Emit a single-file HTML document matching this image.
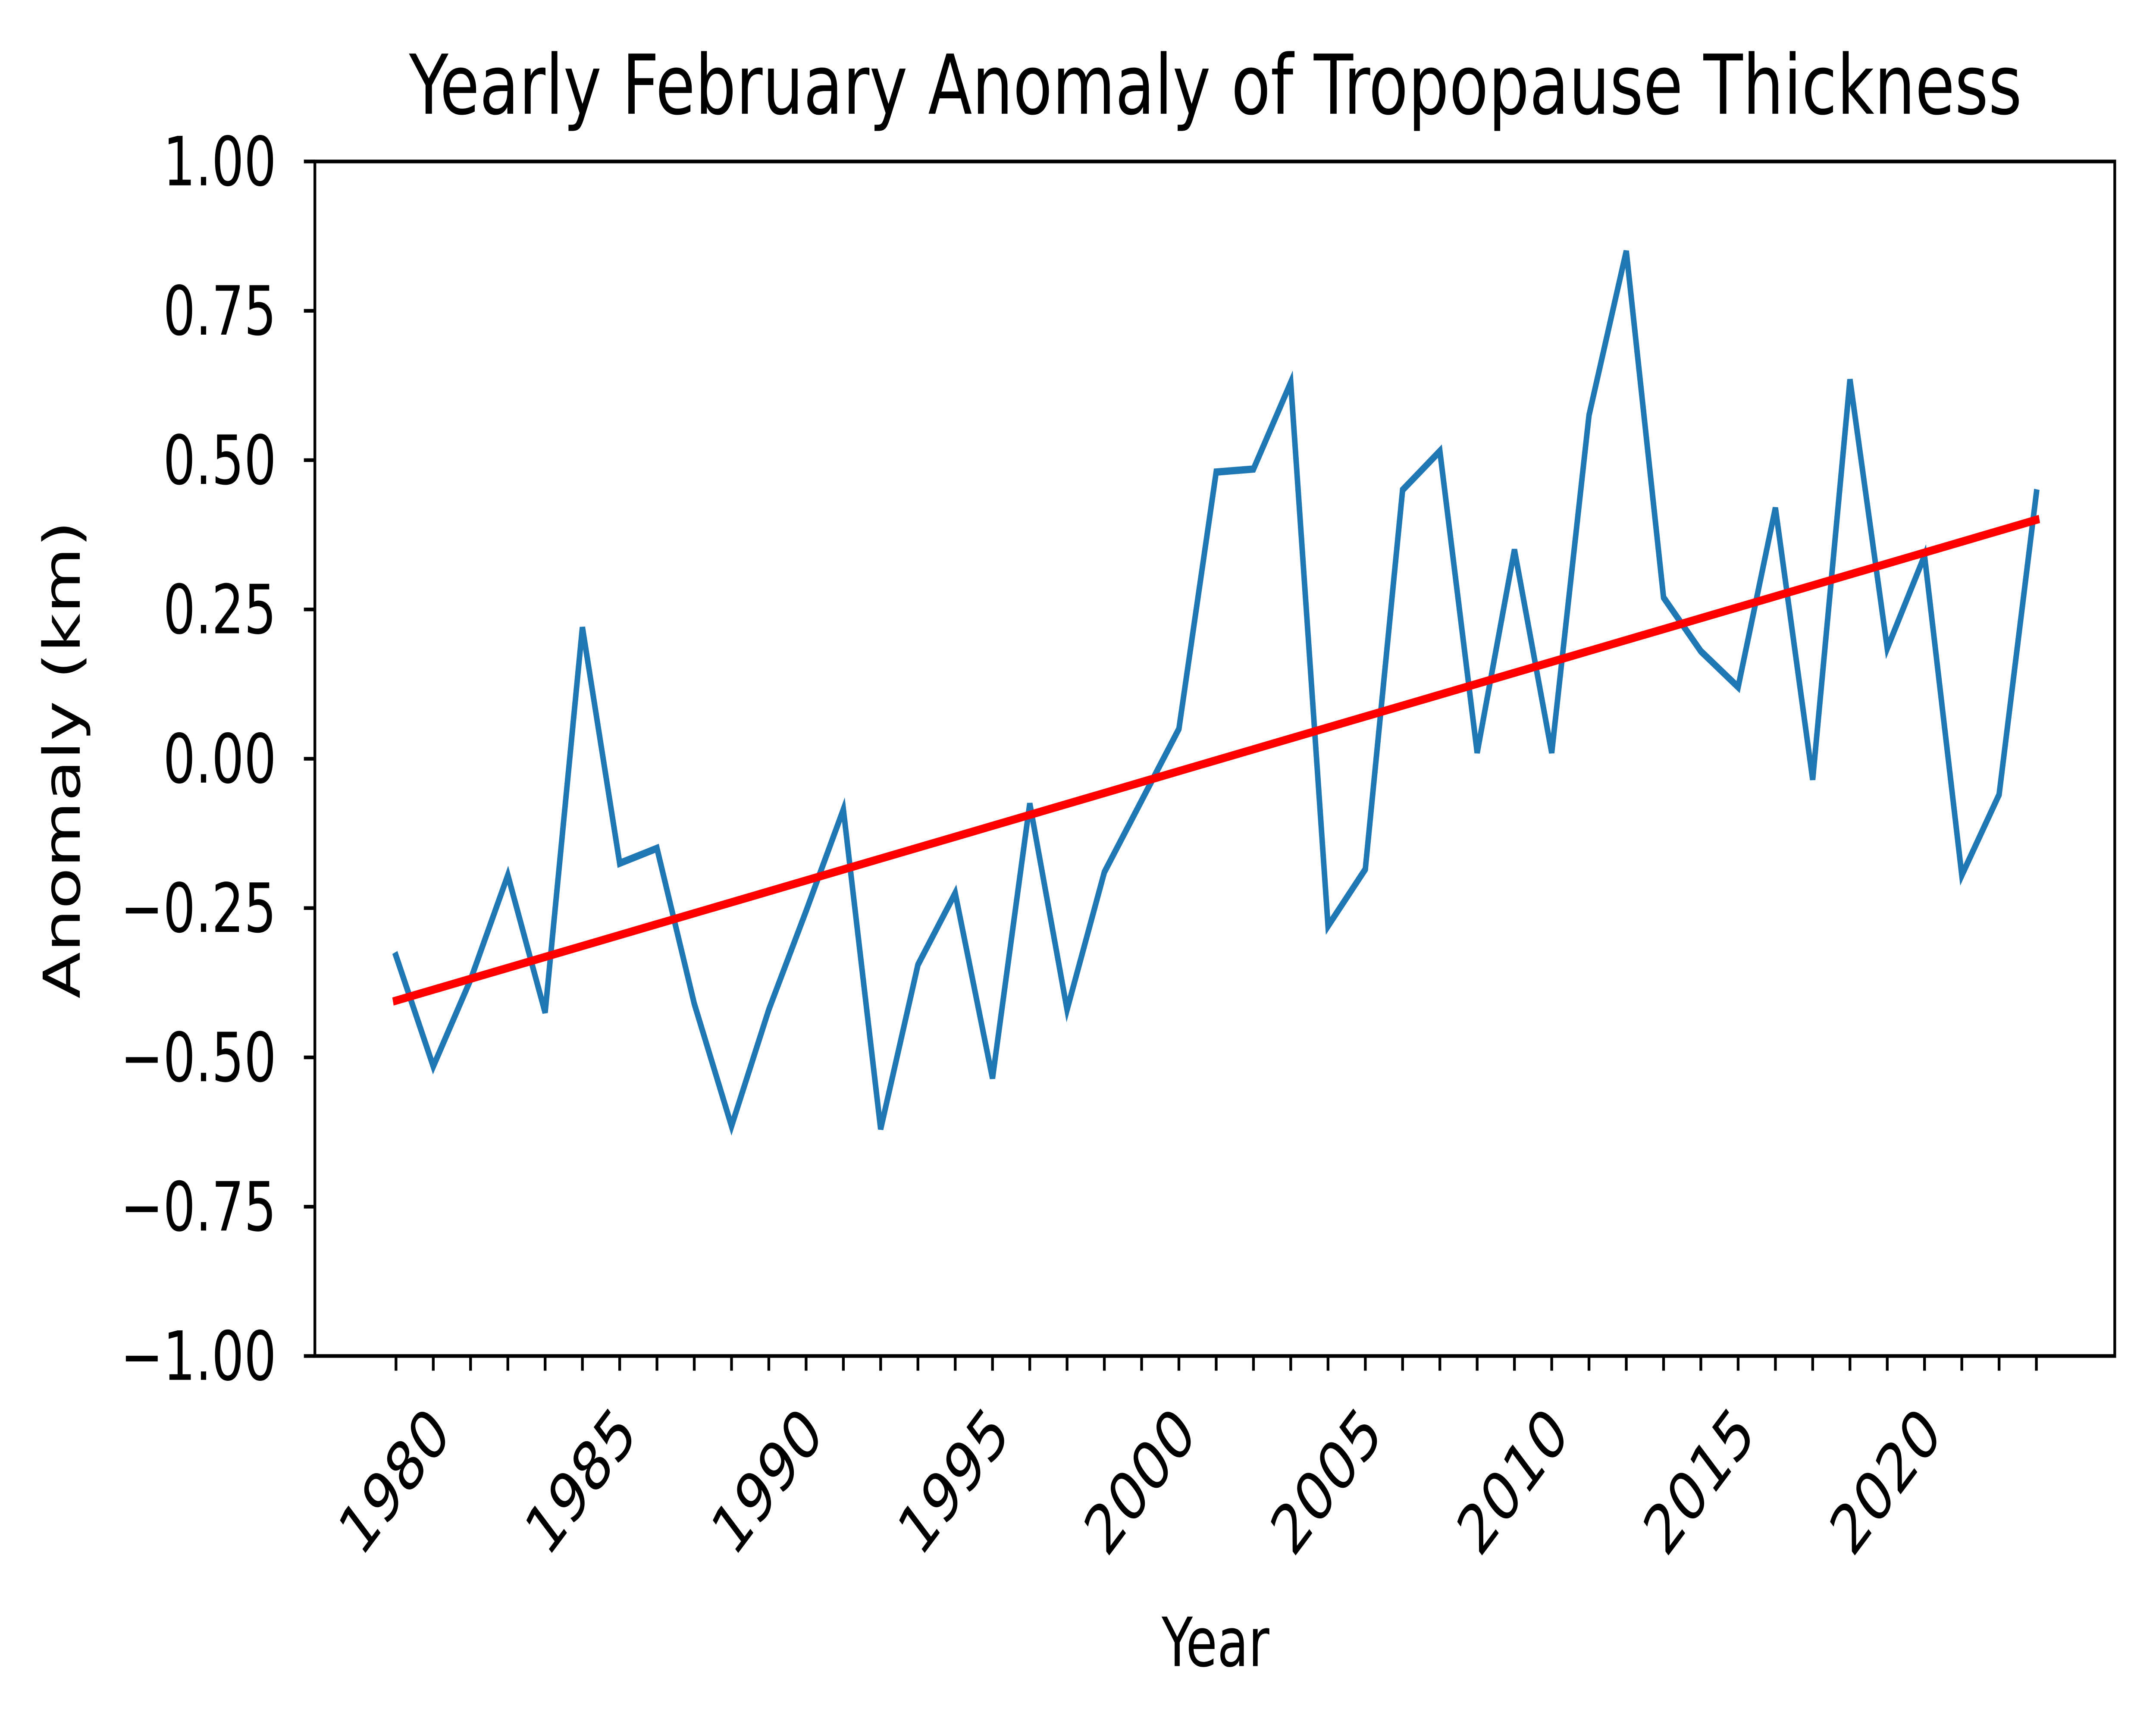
<!DOCTYPE html>
<html><head><meta charset="utf-8"><style>
html,body{margin:0;padding:0;background:#fff;overflow:hidden;width:100%;height:100%;}
svg{display:block;width:100vw;height:100vh;}
text{font-family:"DejaVu Sans","Liberation Sans",sans-serif;fill:#000;}
</style></head><body>
<svg id="chart" viewBox="0 0 1568 945" preserveAspectRatio="none" xmlns="http://www.w3.org/2000/svg">
<rect x="0" y="0" width="1568" height="945" fill="#fff"/>
<text x="884" y="62" font-size="45" text-anchor="middle" textLength="1173" lengthAdjust="spacingAndGlyphs">Yearly February Anomaly of Tropopause Thickness</text>
<g id="yticks"></g>
<g id="xticks"></g>
<g id="plot"></g>
<rect x="229" y="88" width="1309" height="651" fill="none" stroke="#000" stroke-width="2"/>
<text x="884" y="908" font-size="37" text-anchor="middle">Year</text>
<text x="0" y="0" font-size="37" text-anchor="middle" transform="translate(58,414) rotate(-90)">Anomaly (km)</text>
</svg>
<script>
const years = [1979,1980,1981,1982,1983,1984,1985,1986,1987,1988,1989,1990,1991,1992,1993,1994,1995,1996,1997,1998,1999,2000,2001,2002,2003,2004,2005,2006,2007,2008,2009,2010,2011,2012,2013,2014,2015,2016,2017,2018,2019,2020,2021,2022,2023];
const anomaly = [-0.33,-0.515,-0.37,-0.195,-0.425,0.22,-0.175,-0.15,-0.41,-0.615,-0.42,-0.255,-0.085,-0.62,-0.345,-0.225,-0.535,-0.075,-0.42,-0.19,-0.07,0.05,0.48,0.485,0.63,-0.28,-0.185,0.45,0.515,0.01,0.35,0.01,0.575,0.85,0.27,0.18,0.12,0.42,-0.035,0.635,0.185,0.34,-0.195,-0.06,0.445];
const trendStart = -0.405;
const trendEnd = 0.40;
const yTickValues = [1.00,0.75,0.50,0.25,0.00,-0.25,-0.50,-0.75,-1.00];
const yTickLabels = ["1.00","0.75","0.50","0.25","0.00","\u22120.25","\u22120.50","\u22120.75","\u22121.00"];
const xTickLabelYears = [1980,1985,1990,1995,2000,2005,2010,2015,2020];

const NS = "http://www.w3.org/2000/svg";
const X0 = 229, X1 = 1538, Y0 = 88, Y1 = 739;
function xScale(yr){ return 288 + (yr - 1979) * (1481 - 288) / 44; }
function yScale(v){ return Y1 - (v + 1) / 2 * (Y1 - Y0); }
function mk(tag, attrs, parent){ const e = document.createElementNS(NS, tag); for (const k in attrs) e.setAttribute(k, attrs[k]); parent.appendChild(e); return e; }

const yg = document.getElementById('yticks');
yTickValues.forEach((v, i) => {
  const y = yScale(v);
  const t = mk('line', {x1: X0 - 8, x2: X0, y1: y, y2: y, stroke: '#000', 'stroke-width': 2}, yg);
  
  
  const l = mk('text', {x: X0 - 28, y: y + 13, 'font-size': 37, 'text-anchor': 'end'}, yg);
  l.textContent = yTickLabels[i];
  
  
});

const xg = document.getElementById('xticks');
years.forEach(yr => {
  const x = xScale(yr);
  const t = mk('line', {x1: x, x2: x, y1: Y1, y2: Y1 + 8, stroke: '#000', 'stroke-width': 2}, xg);
  
  
});
xTickLabelYears.forEach(yr => {
  const x = xScale(yr);
  const l = mk('text', {x: 0, y: 0, 'font-size': 37, 'text-anchor': 'end', transform: `translate(${x + 14},${Y1 + 44}) rotate(-45)`}, xg);
  l.textContent = String(yr);
  
  
});

const pg = document.getElementById('plot');
const pts = years.map((yr, i) => xScale(yr).toFixed(2) + ',' + yScale(anomaly[i]).toFixed(2)).join(' ');
const line = mk('polyline', {points: pts, fill: 'none', stroke: '#1f77b4', 'stroke-width': 4, 'stroke-linejoin': 'miter', 'stroke-linecap': 'square'}, pg);


const tr = mk('line', {x1: xScale(years[0]), y1: yScale(trendStart), x2: xScale(years[years.length - 1]), y2: yScale(trendEnd), stroke: '#ff0000', 'stroke-width': 4.5, 'stroke-linecap': 'square'}, pg);


</script>
</body></html>
